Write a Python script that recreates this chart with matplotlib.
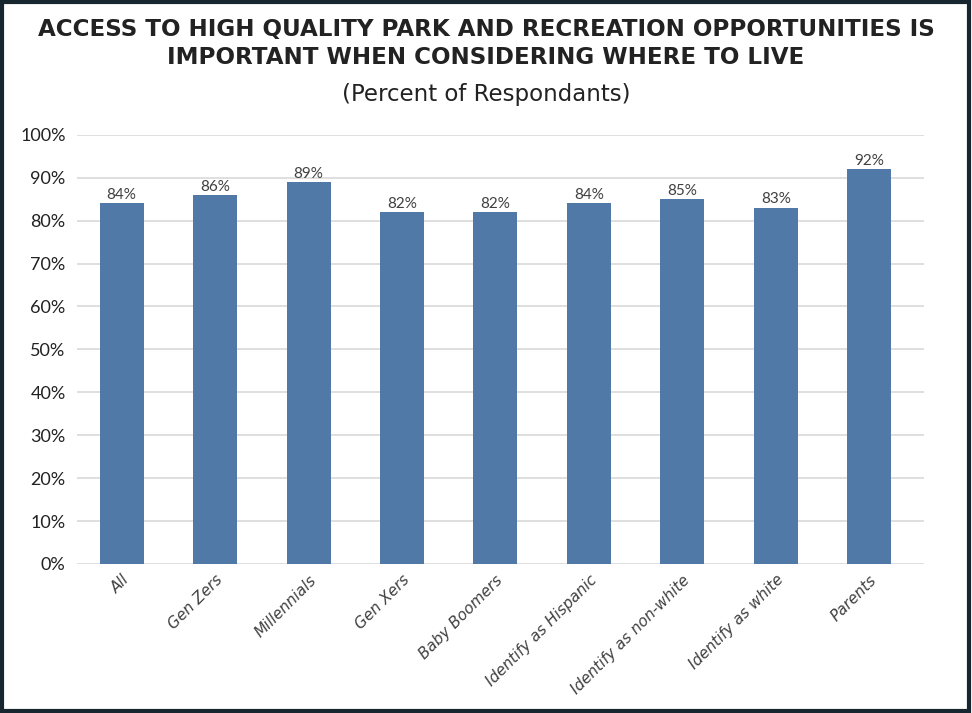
"""
Bar chart: importance of park and recreation access by group.
"""

import matplotlib.pyplot as plt
from matplotlib.patches import Rectangle
from matplotlib.ticker import PercentFormatter

groups = ["All", "Gen Zers", "Millennials", "Gen Xers", "Baby Boomers",
          "Identify as Hispanic", "Identify as non-white",
          "Identify as white", "Parents"]
pct = [84, 86, 89, 82, 82, 84, 85, 83, 92]
yticks = [0, 10, 20, 30, 40, 50, 60, 70, 80, 90, 100]

bar_color = "#5079a8"
text_color = "#404040"

fig = plt.figure(figsize=(9.72, 7.13), dpi=100)
ax = fig.add_axes([0.079, 0.209, 0.872, 0.602])

x = range(len(groups))
ax.bar(x, pct, width=0.47, color=bar_color, zorder=2)
for xi, v in zip(x, pct):
    ax.text(xi, v + 0.3, f"{v}%", ha="center", va="bottom",
            fontsize=11, color=text_color, family="Lato")

ax.set_ylim(0, 100)
ax.set_xlim(-0.48, 8.59)
ax.set_yticks(yticks)
ax.yaxis.set_major_formatter(PercentFormatter(decimals=0))
ax.grid(axis="y", color="#d9d9d9", linewidth=1.2, zorder=0)
for s in ax.spines.values():
    s.set_visible(False)
ax.tick_params(axis="both", length=0)
ax.tick_params(axis="y", labelsize=13, labelcolor="#222222", pad=8)
ax.tick_params(axis="x", pad=6)
ax.set_xticks(list(x))
ax.set_xticklabels(groups, rotation=45, ha="right", rotation_mode="anchor",
                   fontsize=11, style="italic", color=text_color)
for lab in ax.get_yticklabels():
    lab.set_family("Lato")

fig.text(0.5, 0.958, "ACCESS TO HIGH QUALITY PARK AND RECREATION OPPORTUNITIES IS",
         ha="center", va="center", fontsize=16.6, fontweight="bold",
         color="#222222", family="DejaVu Sans")
fig.text(0.5, 0.919, "IMPORTANT WHEN CONSIDERING WHERE TO LIVE",
         ha="center", va="center", fontsize=16.6, fontweight="bold",
         color="#222222", family="DejaVu Sans")
fig.text(0.5, 0.867, "(Percent of Respondants)", ha="center", va="center",
         fontsize=16.5, color="#222222", family="DejaVu Sans")

# dark frame round the whole figure
fig.patches.append(Rectangle((0.002, 0.003), 0.995, 0.994,
                             transform=fig.transFigure, fill=False,
                             edgecolor="#17262f", linewidth=3))

plt.savefig("out.png", dpi=100)
